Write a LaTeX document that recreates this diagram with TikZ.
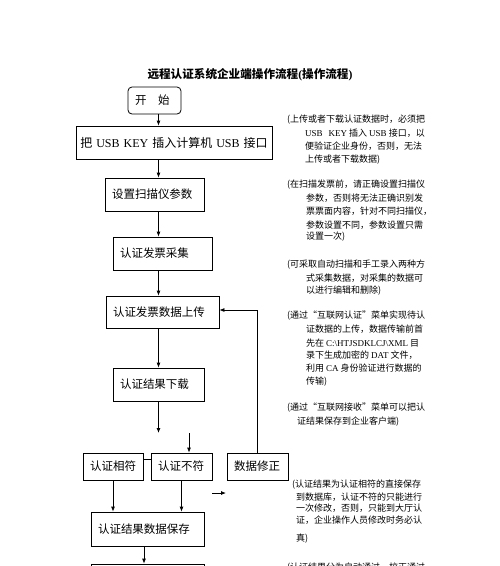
\documentclass[tikz,border=0pt]{standalone}
\usepackage{fontspec}
\setmainfont{Liberation Serif}
\newfontfamily\cjk{Noto Sans CJK SC}
\usetikzlibrary{arrows.meta,calc}
\newcommand\en[1]{{\rmfamily #1}}
\begin{document}
\begin{tikzpicture}[x=1pt,y=-1pt,
  box/.style={draw,line width=0.8pt,inner xsep=7pt,inner ysep=0pt,align=left,
    font=\cjk\fontsize{11.5}{13}\selectfont},
  arr/.style={line width=0.8pt,-{Latex[length=5pt,width=4pt]}},
  ln/.style={line width=0.8pt},
  ann/.style={anchor=west,inner sep=0pt,font=\cjk\fontsize{9}{11}\selectfont}]
\fill[white] (0,0) rectangle (500,566);
\useasboundingbox (0,0) rectangle (500,566);

% title
\node[inner sep=0pt,font=\cjk\bfseries\fontsize{11.6}{13}\selectfont] (title) at (250,75)
  {远程认证系统企业端操作流程\en{\bfseries(}操作流程\en{\bfseries)}};

% spine coordinate
\coordinate (spine) at (158.5,0);

% main boxes
\node[box,rounded corners=4pt,text width=39pt,minimum height=27pt] (start) at (154.5,100.5) {开\hspace{1em}始};
\node[box,inner xsep=0pt,text width=196pt,align=center,minimum height=33pt,font=\cjk\fontsize{12}{14}\selectfont] (usb) at (174,142.5)
  {把\en{ USB KEY }插入计算机\en{ USB }接口};
\node[box,text width=85pt,minimum height=33pt] (set) at (154.5,194.5) {设置扫描仪参数};
\node[box,text width=85pt,minimum height=33pt] (collect) at (162.5,253.5) {认证发票采集};
\node[box,text width=99pt,minimum height=32pt] (upload) at (162.5,312) {认证发票数据上传};
\node[box,text width=77pt,minimum height=33pt] (download) at (158.5,384.5) {认证结果下载};
\node[box,text width=46pt,minimum height=27pt] (match) at (113,466.5) {认证相符};
\node[box,text width=47pt,minimum height=27pt] (nomatch) at (181.5,466.5) {认证不符};
\node[box,text width=47pt,minimum height=27pt] (fix) at (257.5,466.5) {数据修正};
\node[box,text width=99pt,minimum height=34pt] (save) at (147.5,529) {认证结果数据保存};
\node[box,text width=99pt,minimum height=33pt] (next) at (147.5,580.5) {};

% free coordinates
\coordinate (dlend) at (158.5,433);
\coordinate (nmstart) at (189,433);
\coordinate (fa1) at (212,493);
\coordinate (fa2) at (226,493);

% connectors
\draw[arr] (start.south -| spine) -- (usb.north -| spine);
\draw[arr] (usb.south -| spine) -- (set.north -| spine);
\draw[arr] (set.south -| spine) -- (collect.north -| spine);
\draw[arr] (collect.south -| spine) -- (upload.north -| spine);
\draw[arr] (upload.south -| spine) -- (download.north -| spine);
\draw[arr] (download.south -| spine) -- (dlend);
\draw[arr] (nmstart) -- (nomatch.north -| nmstart);
\draw[ln] ($(match.north east)+(0,7)$) -- ($(nomatch.north west)+(0,7)$);
\draw[arr] (fix.north) |- ($(upload.east)+(0,-2)$);
\draw[arr] (fa1) -- (fa2);
\draw[arr] (match.south) -- (save.north -| match.south);
\draw[arr] (nomatch.south) -- (save.north -| nomatch.south);
\draw[arr] (save.south -| 144,0) -- (next.north -| 144,0);

% annotations
\node[ann] (a1a) at (287,120) {(上传或者下载认证数据时，必须把};
\node[ann] (a1b) at (305,133) {\en{USB\hspace{6pt}KEY} 插入 \en{USB} 接口，以};
\node[ann] (a1c) at (305,146.5) {便验证企业身份，否则，无法};
\node[ann] (a1d) at (305,159.5) {上传或者下载数据)};

\node[ann] (a2a) at (287,185) {(在扫描发票前，请正确设置扫描仪};
\node[ann] (a2b) at (306,198.5) {参数，否则将无法正确识别发};
\node[ann] (a2c) at (306,211.5) {票票面内容，针对不同扫描仪，};
\node[ann] (a2d) at (306,225) {参数设置不同，参数设置只需};
\node[ann] (a2e) at (306,237) {设置一次)};

\node[ann] (a3a) at (287,265) {(可采取自动扫描和手工录入两种方};
\node[ann] (a3b) at (306,278) {式采集数据，对采集的数据可};
\node[ann] (a3c) at (306,291) {以进行编辑和删除)};

\node[ann] (a4a) at (287,316) {(通过“互联网认证”菜单实现待认};
\node[ann] (a4b) at (306,329) {证数据的上传，数据传输前首};
\node[ann] (a4c) at (306,343) {先在 \en{C:\textbackslash HTJSDKLCJ\textbackslash XML} 目};
\node[ann] (a4d) at (306,355) {录下生成加密的 \en{DAT} 文件，};
\node[ann] (a4e) at (306,368) {利用 \en{CA} 身份验证进行数据的};
\node[ann] (a4f) at (306,382) {传输)};

\node[ann] (a5a) at (287,408) {(通过“互联网接收”菜单可以把认};
\node[ann] (a5b) at (297,422) {证结果保存到企业客户端)};

\node[ann] (a6a) at (292,485) {(认证结果为认证相符的直接保存};
\node[ann] (a6b) at (296,497) {到数据库，认证不符的只能进行};
\node[ann] (a6c) at (296,508.5) {一次修改，否则，只能到大厅认};
\node[ann] (a6d) at (296,520) {证，企业操作人员修改时务必认};
\node[ann] (a6e) at (296,539) {真)};

\node[ann] (a7a) at (287,568) {(认证结果分为自动通过，校正通过};
\end{tikzpicture}
\end{document}
